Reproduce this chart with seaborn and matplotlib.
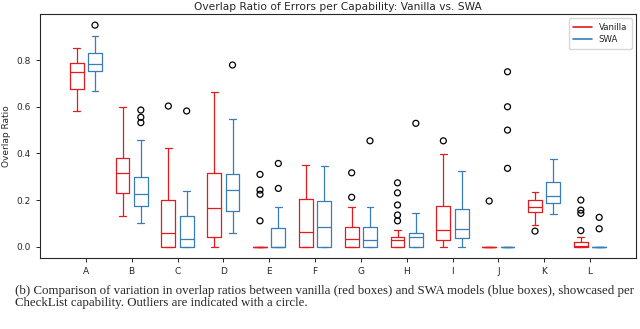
import pandas as pd
import matplotlib
matplotlib.use("Agg")
import matplotlib.pyplot as plt
from matplotlib.lines import Line2D
import seaborn as sns

# capability labels
capabilities = ["A", "B", "C", "D", "E", "F", "G", "H", "I", "J", "K", "L"]

# five-number summaries: low whisker, q1, median, q3, high whisker
vanilla_low = [0.582, 0.133, 0.0, 0.0, 0.0, 0.0, 0.0, 0.0, 0.0, 0.0, 0.094, 0.0]
vanilla_q1 = [0.675, 0.229, 0.0, 0.040, 0.0, 0.0, 0.0, 0.0, 0.027, 0.0, 0.149, 0.0]
vanilla_med = [0.747, 0.315, 0.060, 0.165, 0.0, 0.062, 0.034, 0.027, 0.073, 0.0, 0.171, 0.005]
vanilla_q3 = [0.786, 0.379, 0.199, 0.315, 0.0, 0.203, 0.083, 0.043, 0.174, 0.0, 0.201, 0.020]
vanilla_high = [0.851, 0.599, 0.422, 0.664, 0.0, 0.350, 0.169, 0.072, 0.396, 0.0, 0.234, 0.042]

swa_low = [0.669, 0.100, 0.0, 0.057, 0.0, 0.0, 0.0, 0.0, 0.0, 0.0, 0.140, 0.0]
swa_q1 = [0.754, 0.174, 0.0, 0.152, 0.0, 0.0, 0.0, 0.0, 0.036, 0.0, 0.186, 0.0]
swa_med = [0.782, 0.226, 0.033, 0.243, 0.0, 0.083, 0.030, 0.040, 0.074, 0.0, 0.219, 0.0]
swa_q3 = [0.829, 0.300, 0.132, 0.310, 0.081, 0.195, 0.083, 0.060, 0.163, 0.0, 0.276, 0.0]
swa_high = [0.903, 0.457, 0.239, 0.546, 0.169, 0.347, 0.171, 0.144, 0.324, 0.0, 0.376, 0.0]

# outliers per capability
vanilla_out = [[], [], [0.603], [], [0.310, 0.243, 0.225, 0.111], [], [0.317, 0.212],
               [0.274, 0.231, 0.179, 0.136, 0.111], [0.454], [0.196], [0.067],
               [0.200, 0.157, 0.143, 0.069]]
swa_out = [[0.950], [0.586, 0.555, 0.532], [0.582], [0.779], [0.357, 0.250], [], [0.454],
           [0.529], [], [0.750, 0.600, 0.500, 0.336], [], [0.126, 0.077]]

models = ["Vanilla", "SWA"]
colors = ["#e41a1c", "#377eb8"]

# build long tables
rows = []
for i, cap in enumerate(capabilities):
    for v in [vanilla_low[i], vanilla_q1[i], vanilla_med[i], vanilla_q3[i], vanilla_high[i]]:
        rows.append((cap, "Vanilla", v))
    for v in [swa_low[i], swa_q1[i], swa_med[i], swa_q3[i], swa_high[i]]:
        rows.append((cap, "SWA", v))
box_df = pd.DataFrame(rows, columns=["capability", "model", "ratio"])

out_rows = []
for i, cap in enumerate(capabilities):
    for v in vanilla_out[i]:
        out_rows.append((cap, "Vanilla", v))
    for v in swa_out[i]:
        out_rows.append((cap, "SWA", v))
out_df = pd.DataFrame(out_rows, columns=["capability", "model", "ratio"])

sns.set_style("ticks")
plt.rcParams["font.family"] = ["DejaVu Sans"]

fig = plt.figure(figsize=(6.4, 3.29), dpi=100)
ax = fig.add_axes([0.0625, 0.216, 0.931, 0.741])

sns.boxplot(data=box_df, x="capability", y="ratio", hue="model", order=capabilities,
            hue_order=models, palette=colors, fill=False, whis=(0, 100), width=0.8,
            gap=0.25, linewidth=0.9, legend=False, ax=ax)

n_before = len(ax.collections)
sns.stripplot(data=out_df, x="capability", y="ratio", hue="model", order=capabilities,
              hue_order=models, palette=["black", "black"], dodge=True, jitter=False,
              size=4.3, linewidth=0.9, edgecolor="black", legend=False, ax=ax)
for coll in ax.collections[n_before:]:
    coll.set_facecolor("none")
    coll.set_edgecolor("black")

ax.set_xlim(-1, 12)
ax.set_ylim(-0.048, 0.997)
ax.set_yticks([0.0, 0.2, 0.4, 0.6, 0.8])
ax.set_xlabel("")
ax.set_ylabel("Overlap Ratio", fontsize=6.5)
ax.tick_params(labelsize=6.5, width=0.7, length=3)
ax.set_title("Overlap Ratio of Errors per Capability: Vanilla vs. SWA", fontsize=7.7, pad=3)
for s in ax.spines.values():
    s.set_visible(True)
    s.set_linewidth(0.8)

handles = [Line2D([0], [0], color=c, lw=1.2) for c in colors]
ax.legend(handles, models, loc="upper right", fontsize=6.2, handlelength=2.2,
          borderpad=0.5, labelspacing=0.4)

fig.text(0.023, 0.097, "(b) Comparison of variation in overlap ratios between vanilla (red boxes) and SWA models (blue boxes), showcased per\n"
         "CheckList capability. Outliers are indicated with a circle.",
         family="Liberation Serif", fontsize=9.3, va="center", linespacing=1.04)

fig.savefig("out.png", dpi=100)
